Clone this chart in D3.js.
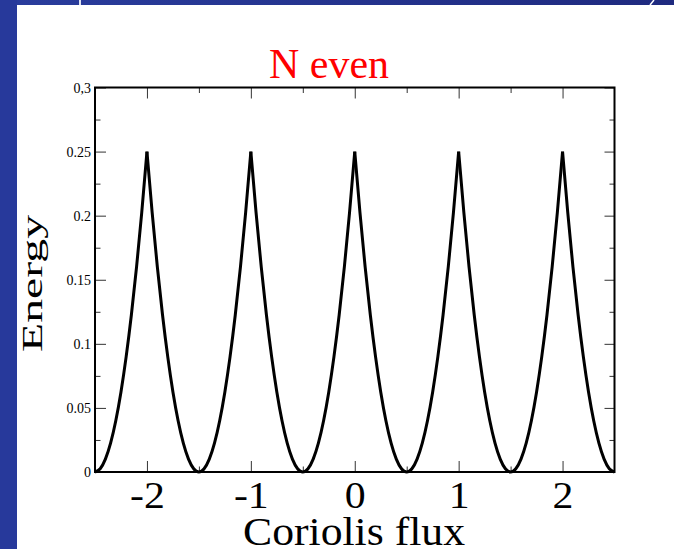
<!DOCTYPE html>
<html>
<head>
<meta charset="utf-8">
<script src="https://cdn.jsdelivr.net/npm/d3@7"></script>
<style>
  html, body { margin: 0; padding: 0; background: #fff; }
  svg { display: block; }
</style>
</head>
<body>
<svg id="chart" width="674" height="549"></svg>
<script>
// ---------- data ----------
const fluxValues = [
  -2.5,-2.45,-2.4,-2.35,-2.3,-2.25,-2.2,-2.15,-2.1,-2.05,
  -2,-1.95,-1.9,-1.85,-1.8,-1.75,-1.7,-1.65,-1.6,-1.55,
  -1.5,-1.45,-1.4,-1.35,-1.3,-1.25,-1.2,-1.15,-1.1,-1.05,
  -1,-0.95,-0.9,-0.85,-0.8,-0.75,-0.7,-0.65,-0.6,-0.55,
  -0.5,-0.45,-0.4,-0.35,-0.3,-0.25,-0.2,-0.15,-0.1,-0.05,
  0,0.05,0.1,0.15,0.2,0.25,0.3,0.35,0.4,0.45,
  0.5,0.55,0.6,0.65,0.7,0.75,0.8,0.85,0.9,0.95,
  1,1.05,1.1,1.15,1.2,1.25,1.3,1.35,1.4,1.45,
  1.5,1.55,1.6,1.65,1.7,1.75,1.8,1.85,1.9,1.95,
  2,2.05,2.1,2.15,2.2,2.25,2.3,2.35,2.4,2.45,
  2.5
];
const energyValues = [
  0,0.0025,0.01,0.0225,0.04,0.0625,0.09,0.1225,0.16,0.2025,
  0.25,0.2025,0.16,0.1225,0.09,0.0625,0.04,0.0225,0.01,0.0025,
  0,0.0025,0.01,0.0225,0.04,0.0625,0.09,0.1225,0.16,0.2025,
  0.25,0.2025,0.16,0.1225,0.09,0.0625,0.04,0.0225,0.01,0.0025,
  0,0.0025,0.01,0.0225,0.04,0.0625,0.09,0.1225,0.16,0.2025,
  0.25,0.2025,0.16,0.1225,0.09,0.0625,0.04,0.0225,0.01,0.0025,
  0,0.0025,0.01,0.0225,0.04,0.0625,0.09,0.1225,0.16,0.2025,
  0.25,0.2025,0.16,0.1225,0.09,0.0625,0.04,0.0225,0.01,0.0025,
  0,0.0025,0.01,0.0225,0.04,0.0625,0.09,0.1225,0.16,0.2025,
  0.25,0.2025,0.16,0.1225,0.09,0.0625,0.04,0.0225,0.01,0.0025,
  0
];
const peakFlux = [-2, -1, 0, 1, 2];          // arches split at the cusps
const xMajorTicks = [-2, -1, 0, 1, 2];
const xMajorLabels = ["-2", "-1", "0", "1", "2"];
const xMinorTicks = [-1.5, -0.5, 0.5, 1.5];
const yMajorTicks = [0, 0.05, 0.1, 0.15, 0.2, 0.25, 0.3];
const yMajorLabels = ["0", "0.05", "0.1", "0.15", "0.2", "0.25", "0,3"];
const yMinorTicks = [0.025, 0.075, 0.125, 0.175, 0.225, 0.275];
const chartTitle = "N even";
const xTitle = "Coriolis flux";
const yTitle = "Energy";

// ---------- layout ----------
const FONT = "'Liberation Serif', 'Times New Roman', serif";
const svg = d3.select("#chart");
const W = 674, H = 549;
const plot = { left: 95, right: 614.5, top: 87.5, bottom: 472 };

// slide decoration
const defs = svg.append("defs");
const grad = defs.append("linearGradient").attr("id", "bar").attr("x1", "0").attr("x2", "1");
grad.append("stop").attr("offset", "0").attr("stop-color", "#2a3d9d");
grad.append("stop").attr("offset", "1").attr("stop-color", "#1f2a7f");
svg.append("rect").attr("x", 0).attr("y", 0).attr("width", W).attr("height", 5).attr("fill", "url(#bar)");
svg.append("rect").attr("x", 0).attr("y", 0).attr("width", 17).attr("height", H).attr("fill", "#27399b");
svg.append("rect").attr("x", 79).attr("y", 0).attr("width", 2).attr("height", 5).attr("fill", "#dfe3f2");
svg.append("line").attr("x1", 654).attr("y1", 0).attr("x2", 650).attr("y2", 5)
   .attr("stroke", "#ffffff").attr("stroke-width", 1.5);

// scales
const x = d3.scaleLinear().domain([-2.5, 2.5]).range([plot.left, plot.right]);
const y = d3.scaleLinear().domain([0, 0.3]).range([plot.bottom, plot.top]);

const tickStroke = "#333";

function styleAxis(g) {
  g.select(".domain").remove();
  g.selectAll(".tick line").attr("stroke", tickStroke).attr("stroke-width", 1);
}

// bottom major
const gxB = svg.append("g").attr("transform", `translate(0,${plot.bottom})`)
  .call(d3.axisBottom(x).tickValues(xMajorTicks).tickSize(-11)
        .tickFormat((d, i) => xMajorLabels[i]));
styleAxis(gxB);
gxB.selectAll(".tick text")
  .attr("y", 36).attr("dy", 0)
  .attr("transform", "scale(1.1,1)")
  .attr("fill", "#000")
  .style("font-size", "38px")
  .style("font-family", FONT);
// bottom minor
styleAxis(svg.append("g").attr("transform", `translate(0,${plot.bottom})`)
  .call(d3.axisBottom(x).tickValues(xMinorTicks).tickSize(-5.5).tickFormat("")));
// top major / minor
styleAxis(svg.append("g").attr("transform", `translate(0,${plot.top})`)
  .call(d3.axisTop(x).tickValues(xMajorTicks).tickSize(-11).tickFormat("")));
styleAxis(svg.append("g").attr("transform", `translate(0,${plot.top})`)
  .call(d3.axisTop(x).tickValues(xMinorTicks).tickSize(-5.5).tickFormat("")));

// left major
const gyL = svg.append("g").attr("transform", `translate(${plot.left},0)`)
  .call(d3.axisLeft(y).tickValues(yMajorTicks).tickSize(-11)
        .tickFormat((d, i) => yMajorLabels[i]));
styleAxis(gyL);
gyL.selectAll(".tick text")
  .attr("x", -4).attr("dy", "0.34em")
  .attr("fill", "#000")
  .style("font-size", "14px")
  .style("font-family", FONT);
// left minor
styleAxis(svg.append("g").attr("transform", `translate(${plot.left},0)`)
  .call(d3.axisLeft(y).tickValues(yMinorTicks).tickSize(-5.5).tickFormat("")));
// right major / minor
styleAxis(svg.append("g").attr("transform", `translate(${plot.right},0)`)
  .call(d3.axisRight(y).tickValues(yMajorTicks).tickSize(-10).tickFormat("")));
styleAxis(svg.append("g").attr("transform", `translate(${plot.right},0)`)
  .call(d3.axisRight(y).tickValues(yMinorTicks).tickSize(-5).tickFormat("")));

// frame
svg.append("rect")
  .attr("x", plot.left).attr("y", plot.top)
  .attr("width", plot.right - plot.left).attr("height", plot.bottom - plot.top)
  .attr("fill", "none").attr("stroke", "#000").attr("stroke-width", 2);

// curve, split into arches at the cusps
const points = fluxValues.map((f, i) => ({ f, e: energyValues[i] }));
const bounds = [-2.5, ...peakFlux, 2.5];
const line = d3.line().x(d => x(d.f)).y(d => y(d.e)).curve(d3.curveMonotoneX);
for (let k = 0; k < bounds.length - 1; k++) {
  const seg = points.filter(p => p.f >= bounds[k] - 1e-9 && p.f <= bounds[k + 1] + 1e-9);
  svg.append("path")
    .datum(seg)
    .attr("d", line)
    .attr("fill", "none")
    .attr("stroke", "#000")
    .attr("stroke-width", 3)
    .attr("stroke-linecap", "butt")
    .attr("stroke-linejoin", "round");
}

// titles
svg.append("text")
  .attr("x", 269).attr("y", 78)
  .attr("textLength", 120).attr("lengthAdjust", "spacingAndGlyphs")
  .attr("fill", "#ff0000")
  .style("font-family", FONT)
  .style("font-size", "42px")
  .text(chartTitle);

svg.append("text")
  .attr("x", 243).attr("y", 545)
  .attr("textLength", 222).attr("lengthAdjust", "spacingAndGlyphs")
  .attr("fill", "#000")
  .style("font-family", FONT)
  .style("font-size", "41px")
  .text(xTitle);

svg.append("text")
  .attr("transform", "translate(42,352) rotate(-90) scale(1,0.66)")
  .attr("x", 0).attr("y", 0)
  .attr("textLength", 137).attr("lengthAdjust", "spacingAndGlyphs")
  .attr("fill", "#000")
  .style("font-family", FONT)
  .style("font-size", "46px")
  .text(yTitle);
</script>
</body>
</html>
